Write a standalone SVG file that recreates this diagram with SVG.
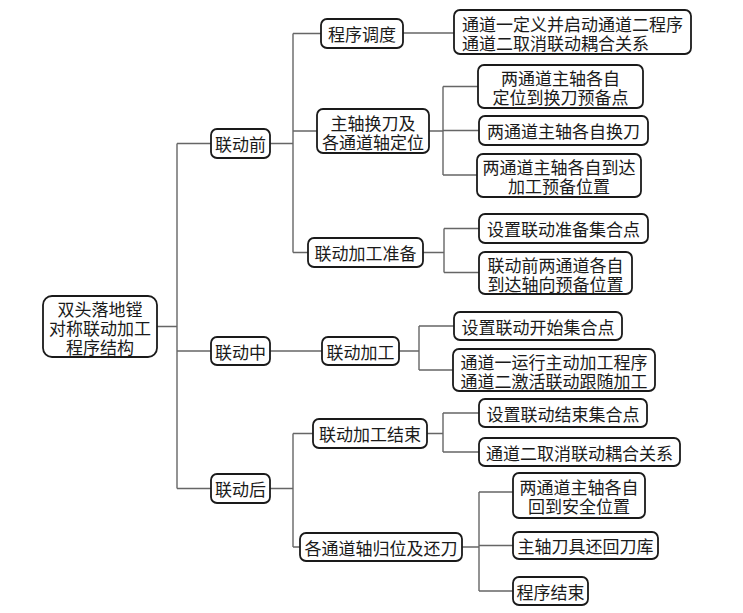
<svg xmlns="http://www.w3.org/2000/svg" width="743" height="613" viewBox="0 0 743 613">
<style>
.b{fill:#fff;stroke:#1a1a1a;stroke-width:1.8}
text{font-family:"Noto Sans CJK SC","Noto Sans CJK JP",sans-serif;font-size:17px;fill:#1a1a1a;text-anchor:middle;dominant-baseline:central}
.l{text-anchor:start}
#conn path{fill:none;stroke:#666;stroke-width:1.4}
</style>
<rect width="743" height="613" fill="#fff"/>
<g id="conn">
<path d="M157,326.5H177M177,143.5V488.5M177,143.5H211M177,351H211M177,488.5H211"/>
<path d="M270,143.5H293M293,33.5V252.5M293,33.5H321M293,131H317M293,252.5H308"/>
<path d="M403,33H454"/>
<path d="M429,131H443M443,86.5V175M443,86.5H478M443,130.5H479M443,175H477"/>
<path d="M423,252.5H444M444,228.5V272.5M444,228.5H479M444,272.5H479"/>
<path d="M270,351H322"/>
<path d="M399,351H419M419,326V370M419,326H454M419,370H453"/>
<path d="M270,488.5H293M293,433.5V547M293,433.5H313M293,547H300"/>
<path d="M427,433.5H443M443,413V452M443,413H479M443,452H479"/>
<path d="M462,547H479M479,492V591M479,492H513M479,545.5H513M479,591H513"/>
</g>
<g id="root"><rect class="b" x="43" y="296" width="114" height="61" rx="9"/><text><tspan x="100" y="307.5">双头落地镗</tspan><tspan x="100" y="326.5">对称联动加工</tspan><tspan x="100" y="345.5">程序结构</tspan></text></g>
<g id="n-before"><rect class="b" x="211" y="129" width="59" height="29" rx="6"/><text x="240.5" y="143.5">联动前</text></g>
<g id="n-during"><rect class="b" x="211" y="337" width="59" height="28" rx="6"/><text x="240.5" y="351">联动中</text></g>
<g id="n-after"><rect class="b" x="211" y="474" width="59" height="29" rx="6"/><text x="240.5" y="488.5">联动后</text></g>
<g id="n-sched"><rect class="b" x="321" y="19" width="82" height="29" rx="6"/><text x="362" y="33.5">程序调度</text></g>
<g id="n-toolchg"><rect class="b" x="317" y="109" width="112" height="44" rx="6"/><text><tspan x="373" y="121.5">主轴换刀及</tspan><tspan x="373" y="140.5">各通道轴定位</tspan></text></g>
<g id="n-prep"><rect class="b" x="308" y="238" width="115" height="29" rx="6"/><text x="365.5" y="252.5">联动加工准备</text></g>
<g id="n-machining"><rect class="b" x="322" y="337" width="77" height="28" rx="6"/><text x="360.5" y="351">联动加工</text></g>
<g id="n-end"><rect class="b" x="313" y="419" width="114" height="29" rx="6"/><text x="370" y="433.5">联动加工结束</text></g>
<g id="n-return"><rect class="b" x="300" y="533" width="162" height="28" rx="6"/><text x="381" y="547">各通道轴归位及还刀</text></g>
<g id="n-def"><rect class="b" x="454" y="10" width="237" height="44" rx="6"/><text class="l"><tspan x="462" y="23">通道一定义并启动通道二程序</tspan><tspan x="462" y="42">通道二取消联动耦合关系</tspan></text></g>
<g id="n-pos1"><rect class="b" x="478" y="65" width="165" height="43" rx="6"/><text><tspan x="560.5" y="77">两通道主轴各自</tspan><tspan x="560.5" y="96">定位到换刀预备点</tspan></text></g>
<g id="n-chg"><rect class="b" x="479" y="116" width="169" height="29" rx="6"/><text x="563.5" y="130.5">两通道主轴各自换刀</text></g>
<g id="n-pos2"><rect class="b" x="477" y="154" width="164" height="43" rx="6"/><text><tspan x="559" y="166">两通道主轴各自到达</tspan><tspan x="559" y="185">加工预备位置</tspan></text></g>
<g id="n-setprep"><rect class="b" x="479" y="214" width="169" height="29" rx="6"/><text x="563.5" y="228.5">设置联动准备集合点</text></g>
<g id="n-axial"><rect class="b" x="479" y="252" width="153" height="42" rx="6"/><text><tspan x="555.5" y="263.5">联动前两通道各自</tspan><tspan x="555.5" y="282.5">到达轴向预备位置</tspan></text></g>
<g id="n-setstart"><rect class="b" x="454" y="312" width="168" height="28" rx="6"/><text x="538" y="326">设置联动开始集合点</text></g>
<g id="n-run"><rect class="b" x="453" y="349" width="202" height="42" rx="6"/><text><tspan x="554" y="360.5">通道一运行主动加工程序</tspan><tspan x="554" y="379.5">通道二激活联动跟随加工</tspan></text></g>
<g id="n-setend"><rect class="b" x="479" y="399" width="168" height="28" rx="6"/><text x="563" y="413">设置联动结束集合点</text></g>
<g id="n-cancel"><rect class="b" x="479" y="438" width="201" height="28" rx="6"/><text x="579.5" y="452">通道二取消联动耦合关系</text></g>
<g id="n-safe"><rect class="b" x="513" y="473" width="132" height="45" rx="6"/><text><tspan x="579" y="486">两通道主轴各自</tspan><tspan x="579" y="505">回到安全位置</tspan></text></g>
<g id="n-store"><rect class="b" x="513" y="532" width="145" height="27" rx="6"/><text x="585.5" y="545.5">主轴刀具还回刀库</text></g>
<g id="n-fin"><rect class="b" x="513" y="577" width="75" height="28" rx="6"/><text x="550.5" y="591">程序结束</text></g>
</svg>
